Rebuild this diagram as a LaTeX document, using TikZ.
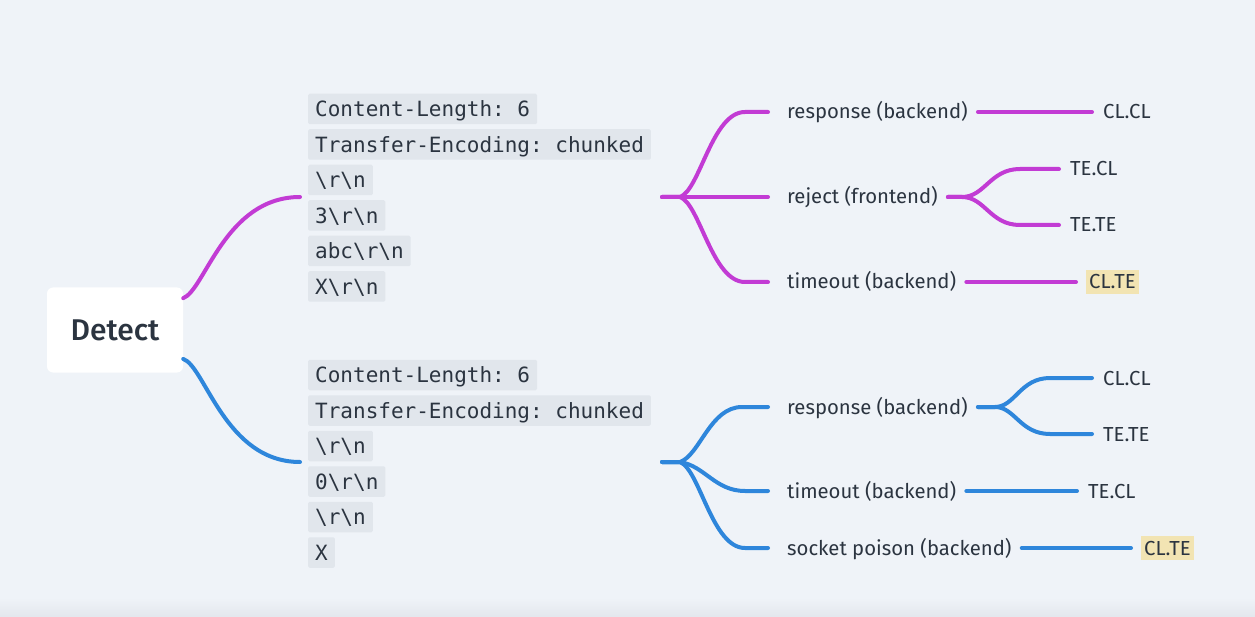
\documentclass[tikz,border=0pt]{standalone}
\usepackage{fontspec}
\IfFontExistsTF{Fira Sans Book}{\setmainfont{Fira Sans Book}}{\setmainfont{Fira Sans}}
\IfFontExistsTF{Fira Sans Medium}{\newfontfamily\rootfont{Fira Sans Medium}}{\newfontfamily\rootfont{Fira Sans}}
\setmonofont{DejaVu Sans Mono}
\usetikzlibrary{positioning}
\definecolor{MapBg}{HTML}{EFF3F8}
\definecolor{CodeBg}{HTML}{E1E6EC}
\definecolor{InkGray}{HTML}{2B3440}
\definecolor{HiYellow}{HTML}{F2E4B3}
\definecolor{ReqPurple}{HTML}{C23BD4}
\definecolor{ReqBlue}{HTML}{2E86DB}
\definecolor{EdgeShade}{HTML}{E3E7ED}
\newcommand{\crlf}{\textbackslash r\textbackslash n}

\begin{document}
\begin{tikzpicture}[x=1pt,y=-1pt,
    every node/.style={text=InkGray,inner xsep=3pt},
    root/.style={fill=white,rounded corners=6pt,minimum width=136pt,minimum height=85pt,font=\rootfont\fontsize{30}{36}\selectfont},
    code/.style={anchor=west,fill=CodeBg,rounded corners=1.5pt,inner xsep=7pt,inner ysep=0pt,minimum height=30.5pt,text height=15.3pt,text depth=0pt,font=\ttfamily\fontsize{21}{25}\selectfont},
    lbl/.style={anchor=west,inner ysep=0pt,minimum height=24pt,text height=14pt,text depth=0pt,font=\fontsize{20.3}{24}\selectfont},
    hi/.style={fill=HiYellow},
    wire/.style={line width=4pt,line cap=round,line join=round,shorten <=7pt,shorten >=8pt},
    hub/.style={shorten <=0pt,shorten >=16pt},
    root wire/.style={shorten <=0pt,shorten >=0pt}]
      \fill[MapBg] (0,0) rectangle (1255,617);
      \shade[top color=MapBg,bottom color=EdgeShade] (0,598) rectangle (1255,617);
      \useasboundingbox (0,0) rectangle (1255,617);

      \node[root] (detect) at (115,330) {Detect};

      % first request
      \node[code] (p1) at (308,109) {Content-Length: 6};
      \node[code] (p2) at (308,144.5) {Transfer-Encoding: chunked};
      \node[code] (p3) at (308,180) {\crlf};
      \node[code] (p4) at (308,215.5) {3\crlf};
      \node[code] (p5) at (308,251) {abc\crlf};
      \node[code] (p6) at (308,286.5) {X\crlf};
      \coordinate (pin) at (300,197);
      \coordinate (pout) at (662,197);
      \coordinate (phub) at (680,197);

      \node[lbl] (presp) at (784,112) {response (backend)};
      \node[lbl] (prej) at (784,197) {reject (frontend)};
      \node[lbl] (ptime) at (784,282) {timeout (backend)};
      \node[lbl] (pclcl) at (1100,112) {CL.CL};
      \node[lbl] (ptecl) at (1067,169) {TE.CL};
      \node[lbl] (ptete) at (1067,225) {TE.TE};
      \node[lbl,hi] (pclte) at (1086,282) {CL.TE};

      % second request
      \node[code] (b1) at (308,375) {Content-Length: 6};
      \node[code] (b2) at (308,410.5) {Transfer-Encoding: chunked};
      \node[code] (b3) at (308,446) {\crlf};
      \node[code] (b4) at (308,481.5) {0\crlf};
      \node[code] (b5) at (308,517) {\crlf};
      \node[code] (b6) at (308,552.5) {X};
      \coordinate (bin) at (300,462);
      \coordinate (bout) at (662,462);
      \coordinate (bhub) at (680,462);

      \node[lbl] (bresp) at (784,407) {response (backend)};
      \node[lbl] (btime) at (784,491) {timeout (backend)};
      \node[lbl] (bsock) at (784,548) {socket poison (backend)};
      \node[lbl] (bclcl) at (1100,378) {CL.CL};
      \node[lbl] (btete) at (1100,434) {TE.TE};
      \node[lbl] (btecl) at (1085,491) {TE.CL};
      \node[lbl,hi] (bclte) at (1141,548) {CL.TE};

      \draw[wire,root wire,ReqPurple] (detect.25) .. controls (205,290) and (225,197) .. (pin);
      \draw[wire,hub,ReqPurple] (pout) -- (phub) .. controls (700,190) and (712,112) .. (745,112) -- (presp.west);
      \draw[wire,hub,ReqPurple] (pout) -- (phub) -- (prej.west);
      \draw[wire,hub,ReqPurple] (pout) -- (phub) .. controls (700,204) and (712,282) .. (745,282) -- (ptime.west);
      \draw[wire,ReqPurple] (presp.east) -- (pclcl.west);
      \draw[wire,ReqPurple] (prej.east) -- (962,197) .. controls (985,197) and (990,169) .. (1020,169) -- (ptecl.west);
      \draw[wire,ReqPurple] (prej.east) -- (962,197) .. controls (985,197) and (990,225) .. (1020,225) -- (ptete.west);
      \draw[wire,ReqPurple,shorten >=10pt] (ptime.east) -- (pclte.west);

      \draw[wire,root wire,ReqBlue] (detect.-23) .. controls (205,366) and (225,462) .. (bin);
      \draw[wire,hub,ReqBlue] (bout) -- (bhub) .. controls (700,455) and (710,407) .. (742,407) -- (bresp.west);
      \draw[wire,hub,ReqBlue] (bout) -- (bhub) .. controls (705,466) and (715,491) .. (745,491) -- (btime.west);
      \draw[wire,hub,ReqBlue] (bout) -- (bhub) .. controls (700,470) and (712,548) .. (745,548) -- (bsock.west);
      \draw[wire,ReqBlue] (bresp.east) -- (995,407) .. controls (1015,407) and (1020,378) .. (1050,378) -- (bclcl.west);
      \draw[wire,ReqBlue] (bresp.east) -- (995,407) .. controls (1015,407) and (1020,434) .. (1050,434) -- (btete.west);
      \draw[wire,ReqBlue] (btime.east) -- (btecl.west);
      \draw[wire,ReqBlue,shorten >=10pt] (bsock.east) -- (bclte.west);
    \end{tikzpicture}
\end{document}
